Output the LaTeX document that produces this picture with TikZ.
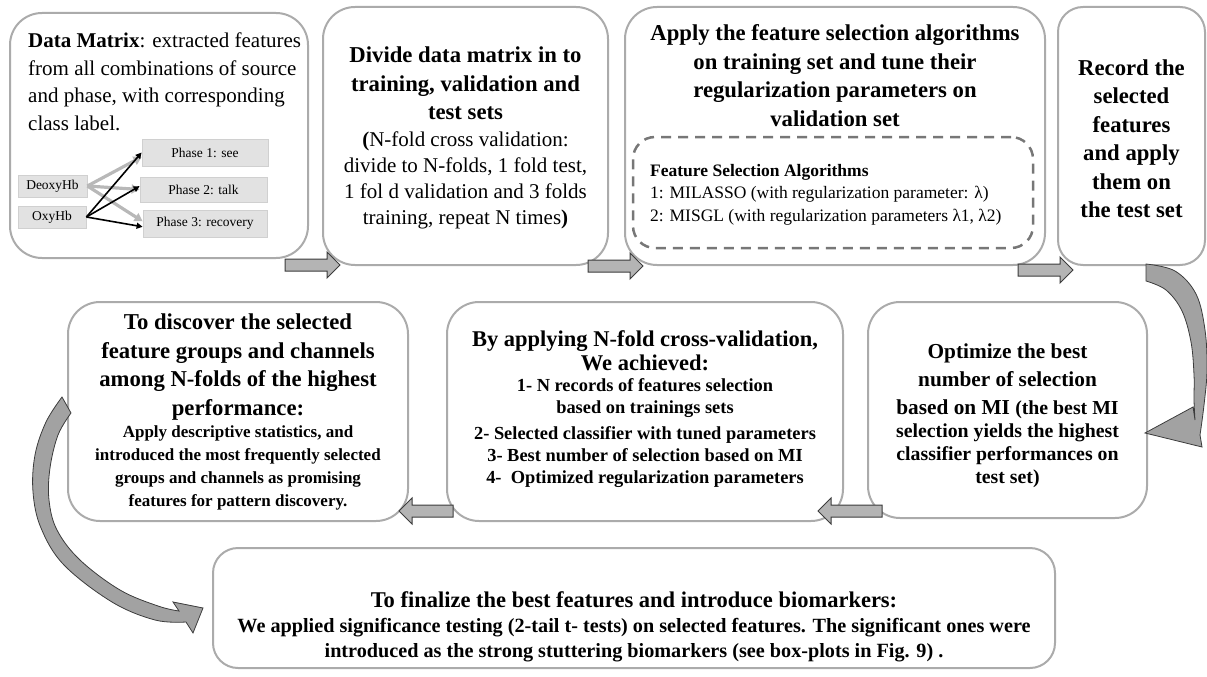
\documentclass[tikz,border=0pt]{standalone}
\usepackage{fontspec}
\setmainfont{Liberation Serif}
\usetikzlibrary{arrows.meta}
\definecolor{boxline}{HTML}{ABABAB}
\definecolor{arrfill}{HTML}{B4B4B4}
\definecolor{curvfill}{HTML}{A2A2A2}
\definecolor{arrline}{HTML}{3C3C3C}
\definecolor{smallfill}{HTML}{E2E2E2}
\definecolor{smallline}{HTML}{D0D0D0}
\definecolor{dashline}{HTML}{777777}
\definecolor{lightarr}{HTML}{B8B8B8}
\newcommand\fBig{\fontsize{22.7}{28.5}\selectfont\bfseries}
\newcommand\fReg{\fontsize{21}{27.5}\selectfont}
\newcommand\fBody{\fontsize{21}{26}\selectfont}
\newcommand\fMid{\fontsize{17}{23}\selectfont\bfseries}
\newcommand\fDash{\fontsize{17.5}{22.5}\selectfont}
\newcommand\fTiny{\fontsize{13.5}{16}\selectfont}
% block arrow pointing right: tail x, tip x, y
\newcommand\blkRight[3]{\filldraw[blockarr] (#1,#3-6) -- (#2-13,#3-6) -- (#2-13,#3-13) -- (#2,#3) -- (#2-13,#3+13) -- (#2-13,#3+6) -- (#1,#3+6) -- cycle;}
% block arrow pointing left: tail x, tip x, y
\newcommand\blkLeft[3]{\filldraw[blockarr] (#1,#3-6) -- (#2+13,#3-6) -- (#2+13,#3-13) -- (#2,#3) -- (#2+13,#3+13) -- (#2+13,#3+6) -- (#1,#3+6) -- cycle;}
\tikzset{
  bigbox/.style={draw=boxline, line width=2pt, rounded corners=32pt, inner sep=0pt},
  dashbox/.style={draw=dashline, line width=2.5pt, dash pattern=on 10pt off 7pt, rounded corners=22pt, inner sep=0pt},
  smallbox/.style={draw=smallline, fill=smallfill, line width=0.8pt, inner sep=0pt, font=\fTiny},
  txt/.style={inner sep=0pt, align=center},
  blockarr/.style={draw=arrline, fill=arrfill, line width=1pt},
  lightconn/.style={draw=lightarr, line width=3.2pt, -{Triangle[length=8pt,width=9pt]}},
  darkconn/.style={draw=black, line width=1.6pt, -{Triangle[length=6pt,width=6pt]}},
  curvarr/.style={fill=curvfill, draw=arrline, line width=0.8pt}
}
\begin{document}
\begin{tikzpicture}[x=1pt,y=-1pt]
\useasboundingbox (0,0) rectangle (1207,677);
% big boxes
\node[bigbox, minimum width=298pt, minimum height=245pt] (b1) at (159,135.5) {};
\node[bigbox, minimum width=285pt, minimum height=258pt] (b2) at (465.5,136) {};
\node[bigbox, minimum width=420pt, minimum height=258pt] (b3) at (835,136) {};
\node[bigbox, rounded corners=25pt, minimum width=147pt, minimum height=258pt] (b4) at (1131.5,136) {};
\node[bigbox, minimum width=340pt, minimum height=219pt] (b5) at (238,411.5) {};
\node[bigbox, minimum width=396pt, minimum height=219pt] (b6) at (645,411.5) {};
\node[bigbox, minimum width=279pt, minimum height=216pt] (b7) at (1007.5,410) {};
\node[bigbox, rounded corners=25pt, minimum width=842pt, minimum height=120pt] (b8) at (634,608) {};
\node[dashbox, minimum width=400pt, minimum height=111pt] (dash) at (833,192.5) {};

% box 1 content
\node[txt, anchor=west, align=left, font=\fReg] (t1) at (28,82) {\textbf{Data Matrix}: extracted features\\from all combinations of source\\and phase, with corresponding\\class label.};
\node[smallbox, minimum width=126pt, minimum height=27pt] (p1) at (205,152.5) {Phase 1: see};
\node[smallbox, minimum width=127pt, minimum height=25pt] (p2) at (203.5,189.5) {Phase 2: talk};
\node[smallbox, minimum width=124pt, minimum height=27pt] (p3) at (205,223.5) {Phase 3: recovery};
\node[smallbox, minimum width=69pt, minimum height=22pt] (deoxy) at (52.5,186) {DeoxyHb};
\node[smallbox, minimum width=68pt, minimum height=22pt] (oxy) at (52,217) {OxyHb};
\draw[lightconn] (deoxy.east) -- (p1.184);
\draw[lightconn] (deoxy.east) -- (p2.west);
\draw[lightconn] (deoxy.east) -- (p3.178);
\draw[darkconn] (oxy.east) -- (p1.180);
\draw[darkconn] (oxy.east) -- (p2.177);
\draw[darkconn] (oxy.east) -- (p3.183);

% box 2
\node[txt, font=\fBig] (t2a) at (465.5,83.5) {Divide data matrix in to\\training, validation and\\test sets};
\node[txt, font=\fBody] (t2b) at (465.5,180.5) {\textbf{(}N-fold cross validation:\\divide to N-folds, 1 fold test,\\1 fol d validation and 3 folds\\training, repeat N times\textbf{)}};

% box 3
\node[txt, font=\fBig] (t3a) at (835,75.5) {Apply the feature selection algorithms\\on training set and tune their\\regularization parameters on\\validation set};
\node[txt, anchor=west, align=left, font=\fDash] (t3b) at (650,194.7) {\textbf{Feature Selection Algorithms}\\1: MILASSO (with regularization parameter: λ)\\2: MISGL (with regularization parameters λ1, λ2)};

% box 4
\node[txt, font=\fBig] (t4) at (1131.5,138.5) {Record the\\selected\\features\\and apply\\them on\\the test set};

% box 5
\node[txt, font=\fBig] (t5a) at (238,367) {To discover the selected\\feature groups and channels\\among N-folds of the highest\\performance:};
\node[txt, font=\fMid] (t5b) at (238,467.5) {Apply descriptive statistics, and\\introduced the most frequently selected\\groups and channels as promising\\features for pattern discovery.};

% box 6
\node[txt, font=\fontsize{22.5}{24}\selectfont\bfseries] (t6a) at (645,351) {By applying N-fold cross-validation,\\We achieved:};
\node[txt, font=\fontsize{18.4}{22}\selectfont\bfseries] (t6b) at (645,433) {1- N records of features selection\\based on trainings sets\\[4pt]2- Selected classifier with tuned parameters\\3- Best number of selection based on MI\\4-~~Optimized regularization parameters};

% box 7
\node[txt, font=\fontsize{21.3}{28}\selectfont\bfseries] (t7a) at (1007.5,381) {Optimize the best\\number of selection\\based on MI {\fontsize{19.8}{23}\selectfont(the best MI}};
\node[txt, font=\fontsize{19.8}{23}\selectfont\bfseries] (t7b) at (1007.5,455.3) {selection yields the highest\\classifier performances on\\test set)};

% box 8
\node[txt, font=\fontsize{22.5}{26}\selectfont\bfseries] (t8a) at (634,600) {To finalize the best features and introduce biomarkers:};
\node[txt, font=\fontsize{20.2}{25}\selectfont\bfseries] (t8b) at (634,640.5) {We applied significance testing (2-tail t- tests) on selected features. The significant ones were\\introduced as the strong stuttering biomarkers (see box-plots in Fig. 9) .};

% straight block arrows
\blkRight{285}{340}{265}
\blkRight{588}{643}{266}
\blkRight{1018}{1073}{270}
\blkLeft{882}{818}{511}
\blkLeft{453}{399}{511}

% curved arrow from box 4 to box 7
\filldraw[curvarr] plot[smooth, tension=0.6] coordinates {(1146,264) (1175,271) (1196,294) (1205,330) (1207,370) (1204,405) (1200,435)}
  -- (1202,447) -- (1145,433) -- (1193,407) -- (1195,420)
  -- plot[smooth, tension=0.6] coordinates {(1195,420) (1194,400) (1194,375) (1191,342) (1182,311) (1166,290) (1146,281)} -- cycle;

% curved arrow from box 5 to box 8
\filldraw[curvarr] plot[smooth, tension=0.6] coordinates {(62,397) (46,422) (35,455) (33,492) (41,528) (64,565) (112,602) (155,620) (186,622)}
  -- (193,633) -- (203,608) -- (173,602) -- (179,611)
  -- plot[smooth, tension=0.6] coordinates {(179,611) (158,606) (120,590) (80,560) (57,530) (49,500) (50,468) (58,435) (71,413)} -- cycle;
\end{tikzpicture}
\end{document}
